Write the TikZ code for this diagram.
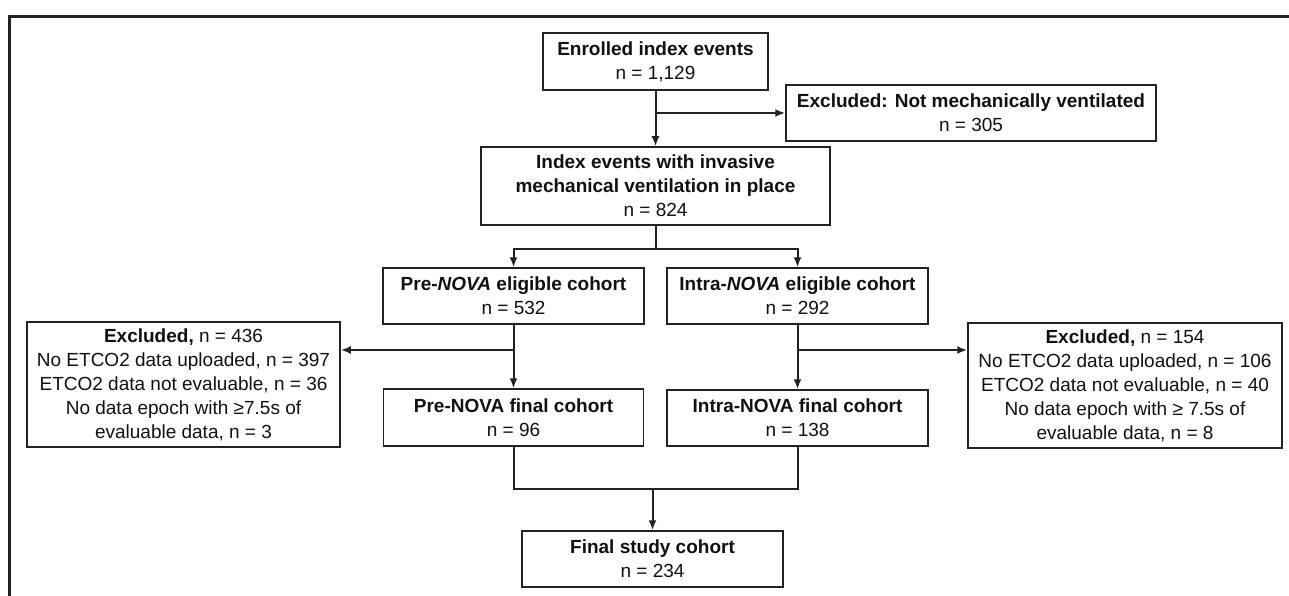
\documentclass[tikz,border=0pt]{standalone}
\usepackage{fontspec}
\setmainfont{Liberation Sans}
\usetikzlibrary{arrows.meta,calc}
\definecolor{ln}{HTML}{222222}
\definecolor{tx}{HTML}{111111}
\begin{document}
\begin{tikzpicture}[x=1pt,y=-1pt,
  box/.style={draw=ln,line width=1.5pt,inner sep=0pt,align=center,text=tx,
    font=\fontsize{19}{24}\selectfont},
  conn/.style={draw=ln,line width=2pt},
  arr/.style={conn,-{Latex[length=10pt,width=8pt]}}]
\useasboundingbox (0,0) rectangle (1289,596);
\draw[ln,line width=2.8pt] (9.5,596) -- (9.5,16.5) -- (1289,16.5);

\node[box,minimum width=225pt,minimum height=57pt] (enroll) at (655.5,61.5)
  {\textbf{Enrolled index events}\\n = 1,129};
\node[box,minimum width=370pt,minimum height=56pt] (excl) at (971,113)
  {\textbf{Excluded: Not mechanically ventilated}\\n = 305};
\node[box,minimum width=349pt,minimum height=78pt] (index) at (655.5,186)
  {\textbf{Index events with invasive}\\\textbf{mechanical ventilation in place}\\n = 824};
\node[box,minimum width=261pt,minimum height=56pt] (pre) at (513.5,296)
  {\textbf{Pre-\textit{NOVA} eligible cohort}\\n = 532};
\node[box,minimum width=261pt,minimum height=56pt] (intra) at (797.5,296)
  {\textbf{Intra-\textit{NOVA} eligible cohort}\\n = 292};
\node[box,minimum width=313pt,minimum height=125pt] (exl) at (183.5,384.5)
  {\textbf{Excluded,} n = 436\\No ETCO2 data uploaded, n = 397\\ETCO2 data not evaluable, n = 36\\No data epoch with ≥7.5s of\\evaluable data, n = 3};
\node[box,minimum width=314pt,minimum height=125pt] (exr) at (1125,385.5)
  {\textbf{Excluded,} n = 154\\No ETCO2 data uploaded, n = 106\\ETCO2 data not evaluable, n = 40\\No data epoch with ≥ 7.5s of\\evaluable data, n = 8};
\node[box,minimum width=260pt,minimum height=57pt] (pref) at (513.5,417.5)
  {\textbf{Pre-NOVA final cohort}\\n = 96};
\node[box,minimum width=261pt,minimum height=56pt] (intraf) at (797.5,418)
  {\textbf{Intra-NOVA final cohort}\\n = 138};
\node[box,minimum width=261pt,minimum height=56pt] (final) at (652.5,559)
  {\textbf{Final study cohort}\\n = 234};

\coordinate (b1) at (655.5,113);
\coordinate (b2) at (655.5,249);
\coordinate (b3) at (513.5,350);
\coordinate (b4) at (797.5,350);
\coordinate (b5) at (652.5,489);

\draw[arr] (enroll.south) -- (index.north);
\draw[arr] (b1) -- (excl.west);
\draw[conn] (index.south) -- (b2);
\draw[arr] (b2) -| (pre.north);
\draw[arr] (b2) -| (intra.north);
\draw[arr] (pre.south) -- (pref.north);
\draw[arr] (b3) -- (exl.east |- b3);
\draw[arr] (intra.south) -- (intraf.north);
\draw[arr] (b4) -- (exr.west |- b4);
\draw[conn] (pref.south) |- (b5) -| (intraf.south);
\draw[arr] (b5) -- (final.north);
\end{tikzpicture}
\end{document}
